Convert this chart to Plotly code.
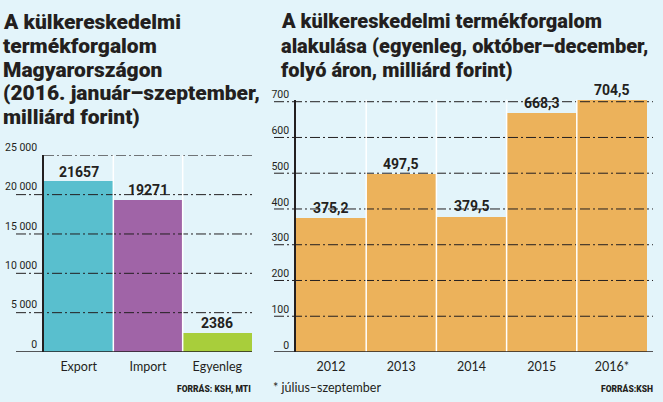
import plotly.graph_objects as go

W, H = 663, 402

# ---------------- data ----------------
LEFT_CATS = ["Export", "Import", "Egyenleg"]
LEFT_VALUES = [21657, 19271, 2386]
LEFT_TICKS = [0, 5000, 10000, 15000, 20000, 25000]

RIGHT_CATS = ["2012", "2013", "2014", "2015", "2016*"]
RIGHT_VALUES = [375.2, 497.5, 379.5, 668.3, 704.5]
RIGHT_TICKS = [0, 100, 200, 300, 400, 500, 600, 700]

LEFT_TITLE = ["A külkereskedelmi", "termékforgalom", "Magyarországon",
              "(2016. január–szeptember,", "milliárd forint)"]
RIGHT_TITLE = ["A külkereskedelmi termékforgalom",
               "alakulása (egyenleg, október–december,",
               "folyó áron, milliárd forint)"]

# ---------------- styles ----------------
BG = "#e3f4fa"
LEFT_COLORS = ["#59bfce", "#a064a7", "#a8ce3b"]
RIGHT_COLOR = "#ecb25b"
INK = "#231f20"
HEAVY = "Roboto, Liberation Sans, sans-serif"
REG = "Lato, Noto Sans, sans-serif"
DASH = "10px,3px,2px,3px"

def px(x):
    return x / W

def py(y):
    return (H - y) / H

BASE_PX = 352
# right axis: top tick (700) sits at 101.7px; allow a little headroom for the 704,5 bar
R_TOP = max(max(RIGHT_VALUES), RIGHT_TICKS[-1]) + 1
R_TOP_PX = BASE_PX - (BASE_PX - 101.7) * R_TOP / RIGHT_TICKS[-1]

fig = go.Figure()

fig.add_trace(go.Bar(
    x=LEFT_CATS, y=LEFT_VALUES, xaxis="x", yaxis="y",
    marker=dict(color=LEFT_COLORS, line=dict(width=0)),
    cliponaxis=False, hoverinfo="skip",
))
fig.add_trace(go.Bar(
    x=RIGHT_CATS, y=RIGHT_VALUES, xaxis="x2", yaxis="y2",
    marker=dict(color=RIGHT_COLOR, line=dict(width=0)),
    cliponaxis=False, hoverinfo="skip",
))

def fmt(v):
    return f"{v:,}".replace(",", " ")

yaxis_common = dict(
    showgrid=False, zeroline=False, showline=True, linecolor=INK, linewidth=1.5,
    ticks="", tickfont=dict(family=HEAVY, size=10.5, color=INK),
    ticklabelstandoff=3, automargin=False,
)
xaxis_common = dict(
    type="category", showgrid=False, zeroline=False, showline=False, ticks="",
    tickfont=dict(family=REG, size=12.5, color=INK), ticklabelstandoff=5,
    automargin=False,
)

fig.update_layout(
    template="none",
    width=W, height=H, margin=dict(l=0, r=0, t=0, b=0, pad=0, autoexpand=False),
    autosize=False,
    paper_bgcolor=BG, plot_bgcolor=BG, showlegend=False,
    bargap=0,
    xaxis=dict(domain=[px(44), px(252)], anchor="y",
               range=[-0.5, len(LEFT_CATS) - 0.5], **xaxis_common),
    yaxis=dict(domain=[py(BASE_PX), py(155.3)], anchor="x", range=[0, LEFT_TICKS[-1]],
               tickvals=LEFT_TICKS, ticktext=[fmt(v) for v in LEFT_TICKS],
               ticklabelshift=-8, **yaxis_common),
    xaxis2=dict(domain=[px(296), px(647)], anchor="y2",
                range=[-0.5, len(RIGHT_CATS) - 0.5], **xaxis_common),
    yaxis2=dict(domain=[py(BASE_PX), py(R_TOP_PX)], anchor="x2", range=[0, R_TOP],
                tickvals=RIGHT_TICKS, ticktext=[fmt(v) for v in RIGHT_TICKS],
                ticklabelshift=-7, **yaxis_common),
)

shapes = []
# gridlines (dash-dot, over bars)
for v in LEFT_TICKS:
    if v == 0:
        continue
    x0 = px(44) if v == LEFT_TICKS[-1] else px(16)
    shapes.append(dict(type="line", xref="paper", yref="y", x0=x0, x1=px(252), y0=v, y1=v,
                       line=dict(color=INK, width=1, dash=DASH), layer="above"))
for v in RIGHT_TICKS:
    if v == 0:
        continue
    shapes.append(dict(type="line", xref="paper", yref="y2", x0=px(274), x1=px(653), y0=v, y1=v,
                       line=dict(color=INK, width=1, dash=DASH), layer="above"))
# white separators between columns
for i in range(len(LEFT_CATS) - 1):
    shapes.append(dict(type="line", xref="x", yref="y domain", x0=i + 0.5, x1=i + 0.5, y0=0, y1=1,
                       line=dict(color="white", width=1.5), layer="above"))
for i in range(len(RIGHT_CATS) - 1):
    shapes.append(dict(type="line", xref="x2", yref="y2 domain", x0=i + 0.5, x1=i + 0.5, y0=0, y1=1,
                       line=dict(color="white", width=1.5), layer="above"))
# baselines
shapes.append(dict(type="line", xref="paper", yref="y", x0=px(16), x1=px(252), y0=0, y1=0,
                   line=dict(color=INK, width=1.5), layer="above"))
shapes.append(dict(type="line", xref="paper", yref="y2", x0=px(274), x1=px(653), y0=0, y1=0,
                   line=dict(color=INK, width=1.5), layer="above"))
fig.update_layout(shapes=shapes)

ann = []
# value labels (x given as category index)
for i, v in enumerate(LEFT_VALUES):
    ann.append(dict(text=str(v), xref="x", yref="y", x=i, y=v, xanchor="center",
                    yanchor="bottom", showarrow=False, yshift=0,
                    font=dict(family=HEAVY, size=14, color=INK, weight="bold")))
for i, v in enumerate(RIGHT_VALUES):
    ann.append(dict(text=f"{v:.1f}".replace(".", ","), xref="x2", yref="y2", x=i, y=v,
                    xanchor="center", yanchor="bottom", showarrow=False, yshift=0,
                    font=dict(family=HEAVY, size=14, color=INK, weight="bold")))
# titles
for i, line in enumerate(LEFT_TITLE):
    ann.append(dict(text=line, xref="paper", yref="paper", x=px(1), y=py(22 + 23.8 * i),
                    xanchor="left", yanchor="middle", showarrow=False,
                    font=dict(family=HEAVY, size=21, color=INK, weight=900)))
for i, line in enumerate(RIGHT_TITLE):
    ann.append(dict(text=line, xref="paper", yref="paper", x=px(279), y=py(21 + 24.5 * i),
                    xanchor="left", yanchor="middle", showarrow=False,
                    font=dict(family=HEAVY, size=20, color=INK, weight=900)))
# sources / footnote
ann.append(dict(text="FORRÁS: KSH, MTI", xref="paper", yref="paper", x=px(253), y=py(388),
                xanchor="right", yanchor="middle", showarrow=False,
                font=dict(family=HEAVY, size=8.5, color=INK, weight=900)))
ann.append(dict(text="FORRÁS:KSH", xref="paper", yref="paper", x=px(655), y=py(388),
                xanchor="right", yanchor="middle", showarrow=False,
                font=dict(family=HEAVY, size=8.5, color=INK, weight=900)))
ann.append(dict(text="* július–szeptember", xref="paper", yref="paper", x=px(271), y=py(387),
                xanchor="left", yanchor="middle", showarrow=False,
                font=dict(family=REG, size=12.5, color=INK)))
fig.update_layout(annotations=ann)

fig.write_html("out.html")
